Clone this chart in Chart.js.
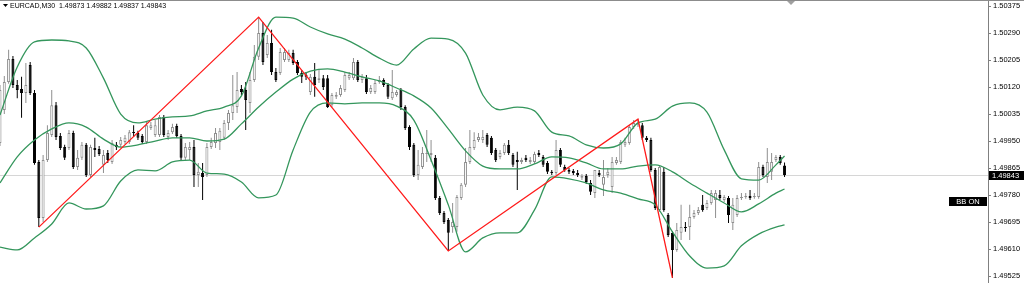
<!DOCTYPE html>
<html>
<head>
<meta charset="utf-8">
<script src="https://cdn.jsdelivr.net/npm/chart.js@4.4.1/dist/chart.umd.min.js"></script>
<style>
    html, body { margin: 0; padding: 0; background: #ffffff; }
    #wrap { position: relative; width: 1024px; height: 283px; }
</style>
</head>
<body>
<div id="wrap"><canvas id="eurcadChart"></canvas></div>
<script>
// EURCAD M30 candles
const symbolTitle = 'EURCAD,M30  1.49873 1.49882 1.49837 1.49843';
const opens = [
    1.49944, 1.50048, 1.50136, 1.50208, 1.50126, 1.50114, 1.50101, 1.50189, 1.50101, 1.49884,
    1.49708, 1.49890, 1.49969, 1.50063, 1.49966, 1.49931, 1.49928, 1.49975, 1.49868, 1.49897,
    1.49938, 1.49843, 1.49928, 1.49925, 1.49875, 1.49912, 1.49884, 1.49938, 1.49938, 1.49947,
    1.49947, 1.49978, 1.49975, 1.49966, 1.49947, 1.49991, 1.49969, 1.49969, 1.50026, 1.49963,
    1.49978, 1.49997, 1.49966, 1.49897, 1.49922, 1.49931, 1.49843, 1.49849, 1.49843, 1.49931,
    1.49944, 1.49947, 1.49960, 1.50007, 1.50038, 1.50057, 1.50114, 1.50111, 1.50070, 1.50142,
    1.50215, 1.50290, 1.50221, 1.50259, 1.50167, 1.50164, 1.50205, 1.50205, 1.50227, 1.50199,
    1.50164, 1.50158, 1.50104, 1.50152, 1.50142, 1.50148, 1.50148, 1.50063, 1.50089, 1.50095,
    1.50111, 1.50148, 1.50148, 1.50199, 1.50142, 1.50148, 1.50104, 1.50104, 1.50136, 1.50142,
    1.50126, 1.50085, 1.50095, 1.50111, 1.50057, 1.49994, 1.49938, 1.49843, 1.49868, 1.49909,
    1.49906, 1.49897, 1.49771, 1.49723, 1.49701, 1.49679, 1.49679, 1.49771, 1.49812, 1.49884,
    1.49928, 1.49953, 1.49953, 1.49969, 1.49960, 1.49922, 1.49900, 1.49912, 1.49938, 1.49906,
    1.49890, 1.49884, 1.49897, 1.49884, 1.49884, 1.49912, 1.49900, 1.49881, 1.49853, 1.49849,
    1.49922, 1.49868, 1.49859, 1.49856, 1.49849, 1.49834, 1.49840, 1.49818, 1.49786, 1.49849,
    1.49812, 1.49843, 1.49805, 1.49881, 1.49884, 1.49938, 1.49944, 1.49994, 1.50000, 1.50000,
    1.49960, 1.49953, 1.49859, 1.49733, 1.49853, 1.49717, 1.49661, 1.49607, 1.49661, 1.49679,
    1.49679, 1.49711, 1.49723, 1.49749, 1.49739, 1.49755, 1.49764, 1.49780, 1.49764, 1.49771,
    1.49692, 1.49717, 1.49771, 1.49774, 1.49777, 1.49774, 1.49774, 1.49868, 1.49837, 1.49853,
    1.49890, 1.49900, 1.49873
];
const highs = [
    1.50126, 1.50155, 1.50237, 1.50218, 1.50142, 1.50152, 1.50196, 1.50199, 1.50111, 1.49890,
    1.49906, 1.50000, 1.50111, 1.50073, 1.49975, 1.49938, 1.49985, 1.49982, 1.49922, 1.49947,
    1.49944, 1.49938, 1.49960, 1.49934, 1.49922, 1.49922, 1.49953, 1.49947, 1.49963, 1.49969,
    1.49985, 1.50000, 1.49982, 1.49972, 1.50010, 1.50010, 1.50016, 1.50032, 1.50032, 1.49985,
    1.50004, 1.50004, 1.49972, 1.49944, 1.49947, 1.49953, 1.49881, 1.49881, 1.49944, 1.49960,
    1.49991, 1.49991, 1.50016, 1.50048, 1.50158, 1.50167, 1.50126, 1.50136, 1.50167, 1.50252,
    1.50340, 1.50325, 1.50284, 1.50300, 1.50180, 1.50243, 1.50243, 1.50237, 1.50237, 1.50205,
    1.50174, 1.50167, 1.50161, 1.50196, 1.50174, 1.50158, 1.50158, 1.50101, 1.50104, 1.50126,
    1.50167, 1.50167, 1.50211, 1.50205, 1.50161, 1.50158, 1.50126, 1.50142, 1.50155, 1.50148,
    1.50133, 1.50174, 1.50111, 1.50117, 1.50063, 1.50000, 1.49944, 1.49922, 1.49931, 1.49985,
    1.49953, 1.49906, 1.49777, 1.49730, 1.49708, 1.49755, 1.49780, 1.49818, 1.49928, 1.49985,
    1.49978, 1.49975, 1.49985, 1.49975, 1.49966, 1.49928, 1.49922, 1.49944, 1.49953, 1.49912,
    1.49916, 1.49897, 1.49906, 1.49900, 1.49916, 1.49922, 1.49906, 1.49887, 1.49859, 1.49953,
    1.49928, 1.49875, 1.49865, 1.49862, 1.49859, 1.49846, 1.49846, 1.49827, 1.49859, 1.49859,
    1.49890, 1.49865, 1.49900, 1.49900, 1.49953, 1.49960, 1.50000, 1.50016, 1.50019, 1.50007,
    1.49966, 1.49960, 1.49865, 1.49871, 1.49868, 1.49723, 1.49667, 1.49692, 1.49749, 1.49695,
    1.49749, 1.49733, 1.49742, 1.49780, 1.49764, 1.49796, 1.49796, 1.49796, 1.49780, 1.49777,
    1.49771, 1.49780, 1.49786, 1.49786, 1.49796, 1.49786, 1.49884, 1.49875, 1.49928, 1.49912,
    1.49906, 1.49906, 1.49882
];
const lows = [
    1.49934, 1.50035, 1.50130, 1.50117, 1.50085, 1.50023, 1.50070, 1.50095, 1.49875, 1.49679,
    1.49695, 1.49884, 1.49963, 1.49953, 1.49922, 1.49890, 1.49922, 1.49862, 1.49859, 1.49890,
    1.49837, 1.49837, 1.49900, 1.49903, 1.49849, 1.49881, 1.49878, 1.49922, 1.49931, 1.49941,
    1.49941, 1.49963, 1.49953, 1.49941, 1.49941, 1.49985, 1.49963, 1.49963, 1.49963, 1.49953,
    1.49972, 1.49960, 1.49890, 1.49890, 1.49890, 1.49805, 1.49805, 1.49764, 1.49837, 1.49925,
    1.49928, 1.49922, 1.49953, 1.49985, 1.50016, 1.50038, 1.50095, 1.49985, 1.50038, 1.50136,
    1.50205, 1.50189, 1.50211, 1.50158, 1.50136, 1.50158, 1.50199, 1.50199, 1.50189, 1.50158,
    1.50133, 1.50142, 1.50095, 1.50089, 1.50133, 1.50111, 1.50054, 1.50057, 1.50082, 1.50089,
    1.50104, 1.50142, 1.50142, 1.50136, 1.50133, 1.50098, 1.50098, 1.50098, 1.50130, 1.50120,
    1.50082, 1.50079, 1.50089, 1.50048, 1.49985, 1.49922, 1.49837, 1.49827, 1.49862, 1.49884,
    1.49884, 1.49764, 1.49717, 1.49689, 1.49604, 1.49661, 1.49664, 1.49764, 1.49805, 1.49878,
    1.49922, 1.49947, 1.49944, 1.49931, 1.49906, 1.49884, 1.49893, 1.49906, 1.49906, 1.49868,
    1.49796, 1.49878, 1.49884, 1.49878, 1.49878, 1.49900, 1.49868, 1.49846, 1.49843, 1.49843,
    1.49868, 1.49853, 1.49846, 1.49843, 1.49837, 1.49827, 1.49815, 1.49780, 1.49771, 1.49837,
    1.49777, 1.49834, 1.49786, 1.49875, 1.49878, 1.49931, 1.49938, 1.49988, 1.49994, 1.49953,
    1.49947, 1.49853, 1.49733, 1.49727, 1.49727, 1.49648, 1.49519, 1.49601, 1.49638, 1.49664,
    1.49638, 1.49705, 1.49717, 1.49727, 1.49733, 1.49749, 1.49708, 1.49764, 1.49758, 1.49692,
    1.49670, 1.49711, 1.49764, 1.49768, 1.49764, 1.49768, 1.49768, 1.49837, 1.49818, 1.49827,
    1.49884, 1.49875, 1.49837
];
const closes = [
    1.50111, 1.50136, 1.50208, 1.50126, 1.50111, 1.50101, 1.50126, 1.50101, 1.49881, 1.49708,
    1.49890, 1.49975, 1.50063, 1.49963, 1.49928, 1.49897, 1.49975, 1.49868, 1.49897, 1.49938,
    1.49843, 1.49931, 1.49922, 1.49909, 1.49906, 1.49890, 1.49944, 1.49931, 1.49953, 1.49960,
    1.49978, 1.49975, 1.49960, 1.49947, 1.50000, 1.50000, 1.50000, 1.50026, 1.49969, 1.49975,
    1.49994, 1.49966, 1.49897, 1.49931, 1.49931, 1.49843, 1.49853, 1.49837, 1.49931, 1.49947,
    1.49975, 1.49982, 1.50007, 1.50038, 1.50063, 1.50111, 1.50104, 1.50079, 1.50142, 1.50215,
    1.50290, 1.50199, 1.50259, 1.50167, 1.50142, 1.50230, 1.50230, 1.50227, 1.50196, 1.50164,
    1.50152, 1.50152, 1.50152, 1.50126, 1.50148, 1.50120, 1.50057, 1.50095, 1.50095, 1.50117,
    1.50158, 1.50158, 1.50199, 1.50142, 1.50152, 1.50104, 1.50117, 1.50133, 1.50142, 1.50126,
    1.50089, 1.50104, 1.50104, 1.50057, 1.49991, 1.49931, 1.49843, 1.49875, 1.49912, 1.49912,
    1.49912, 1.49771, 1.49723, 1.49695, 1.49661, 1.49695, 1.49774, 1.49812, 1.49884, 1.49931,
    1.49953, 1.49963, 1.49963, 1.49938, 1.49912, 1.49890, 1.49912, 1.49938, 1.49912, 1.49875,
    1.49884, 1.49890, 1.49890, 1.49890, 1.49909, 1.49906, 1.49875, 1.49853, 1.49849, 1.49922,
    1.49875, 1.49859, 1.49853, 1.49849, 1.49843, 1.49840, 1.49821, 1.49790, 1.49859, 1.49843,
    1.49837, 1.49853, 1.49884, 1.49890, 1.49947, 1.49947, 1.49994, 1.50007, 1.50007, 1.49960,
    1.49953, 1.49859, 1.49739, 1.49868, 1.49733, 1.49654, 1.49607, 1.49670, 1.49679, 1.49676,
    1.49711, 1.49723, 1.49733, 1.49733, 1.49755, 1.49786, 1.49786, 1.49771, 1.49774, 1.49717,
    1.49749, 1.49771, 1.49774, 1.49777, 1.49771, 1.49777, 1.49868, 1.49843, 1.49884, 1.49884,
    1.49900, 1.49881, 1.49843
];

// Bollinger bands, read at every 4th bar
const bbIndex = [0, 4, 8, 12, 16, 20, 24, 28, 32, 36, 40, 44, 48, 52, 56, 60, 64, 68, 72, 76, 80, 84, 88, 92,
    96, 100, 104, 108, 112, 116, 120, 124, 128, 132, 136, 140, 144, 148, 152, 156, 160, 164, 168, 172, 176, 180, 182];
const bbUpper = [
    1.50032, 1.50183, 1.50262, 1.50268, 1.50265, 1.50243, 1.50148, 1.50035, 1.50007, 1.50019,
    1.50026, 1.50029, 1.50045, 1.50057, 1.50092, 1.50243, 1.50340, 1.50337, 1.50309, 1.50287,
    1.50271, 1.50243, 1.50211, 1.50189, 1.50240, 1.50274, 1.50271, 1.50227, 1.50095, 1.50048,
    1.50057, 1.50045, 1.49978, 1.49966, 1.49938, 1.49928, 1.49941, 1.50007, 1.50019, 1.50060,
    1.50070, 1.50041, 1.49922, 1.49831, 1.49827, 1.49875, 1.49903
];
const bbMiddle = [
    1.49818, 1.49900, 1.49953, 1.49988, 1.50007, 1.49994, 1.49956, 1.49931, 1.49938, 1.49950,
    1.49960, 1.49960, 1.49950, 1.49956, 1.50004, 1.50057, 1.50104, 1.50145, 1.50170, 1.50177,
    1.50167, 1.50152, 1.50139, 1.50117, 1.50092, 1.50054, 1.49988, 1.49919, 1.49871, 1.49862,
    1.49862, 1.49878, 1.49900, 1.49897, 1.49881, 1.49862, 1.49862, 1.49871, 1.49875, 1.49853,
    1.49818, 1.49786, 1.49755, 1.49727, 1.49752, 1.49786, 1.49799
];
const bbLower = [
    1.49616, 1.49607, 1.49645, 1.49689, 1.49755, 1.49736, 1.49746, 1.49824, 1.49859, 1.49856,
    1.49884, 1.49890, 1.49849, 1.49846, 1.49821, 1.49771, 1.49780, 1.49922, 1.50041, 1.50070,
    1.50067, 1.50070, 1.50070, 1.50060, 1.50016, 1.49890, 1.49749, 1.49601, 1.49645, 1.49661,
    1.49661, 1.49733, 1.49837, 1.49831, 1.49818, 1.49796, 1.49786, 1.49768, 1.49749, 1.49664,
    1.49588, 1.49550, 1.49557, 1.49620, 1.49657, 1.49679, 1.49686
];

// ZigZag pivots
const zzIndex = [9, 60, 104, 148, 156];
const zzPrice = [1.49679, 1.50340, 1.49604, 1.50019, 1.49519];

// price scale labels
const priceTicks = [1.50375, 1.50290, 1.50205, 1.50120, 1.50035, 1.49950, 1.49865, 1.49780, 1.49695, 1.49610, 1.49525];

const lastPrice = closes[closes.length - 1];
const isBull = opens.map((o, i) => closes[i] >= o);

const FONT = 'Liberation Sans';

const mtOverlay = {
    id: 'mtOverlay',
    beforeDatasetsDraw(chart) {
        const { ctx, chartArea, scales } = chart;
        const y = Math.round(scales.y.getPixelForValue(lastPrice)) + 0.5;
        ctx.save();
        ctx.strokeStyle = '#d6d6d6';
        ctx.lineWidth = 1;
        ctx.beginPath();
        ctx.moveTo(chartArea.left, y);
        ctx.lineTo(chartArea.right, y);
        ctx.stroke();
        ctx.restore();
    },
    afterDraw(chart) {
        const { ctx, chartArea, scales } = chart;
        ctx.save();
        // frame top
        ctx.strokeStyle = '#8c8c8c';
        ctx.lineWidth = 1;
        ctx.beginPath();
        ctx.moveTo(0, 0.5);
        ctx.lineTo(chart.width, 0.5);
        ctx.stroke();

        // chart shift marker
        ctx.fillStyle = '#a0a0a0';
        ctx.beginPath();
        ctx.moveTo(chartArea.left + 787, 1);
        ctx.lineTo(chartArea.left + 795, 1);
        ctx.lineTo(chartArea.left + 791, 5);
        ctx.closePath();
        ctx.fill();

        // symbol title
        ctx.fillStyle = '#000000';
        ctx.beginPath();
        ctx.moveTo(3, 4);
        ctx.lineTo(8, 4);
        ctx.lineTo(5.5, 7);
        ctx.closePath();
        ctx.fill();
        ctx.font = '7px "' + FONT + '"';
        ctx.textBaseline = 'middle';
        ctx.textAlign = 'left';
        ctx.fillText(symbolTitle, 10, 6);

        // current price tag
        const y = Math.round(scales.y.getPixelForValue(lastPrice));
        ctx.fillStyle = '#000000';
        ctx.fillRect(chartArea.right + 1, y - 4, 36, 9);
        ctx.fillStyle = '#ffffff';
        ctx.font = '7.5px "' + FONT + '"';
        ctx.fillText(lastPrice.toFixed(5), chartArea.right + 4, y + 0.5);

        // BB ON button
        ctx.fillStyle = '#000000';
        ctx.fillRect(chartArea.right - 39, 197, 38, 9);
        ctx.fillStyle = '#ffffff';
        ctx.textAlign = 'center';
        ctx.fillText('BB ON', chartArea.right - 20, 201.5);
        ctx.restore();
    }
};

const ctx = document.getElementById('eurcadChart').getContext('2d');
const eurcadChart = new Chart(ctx, {
    type: 'bar',
    data: {
        datasets: [
            {
                type: 'line',
                label: 'ZigZag',
                data: zzIndex.map((x, k) => ({ x: x, y: zzPrice[k] })),
                borderColor: '#ff1a1a',
                borderWidth: 1.3,
                pointRadius: 0,
                tension: 0,
                order: 0
            },
            {
                type: 'line',
                label: 'BB upper',
                data: bbIndex.map((x, k) => ({ x: x, y: bbUpper[k] })),
                borderColor: 'rgb(52, 150, 92)',
                borderWidth: 1.3,
                pointRadius: 0,
                cubicInterpolationMode: 'monotone',
                order: 1
            },
            {
                type: 'line',
                label: 'BB middle',
                data: bbIndex.map((x, k) => ({ x: x, y: bbMiddle[k] })),
                borderColor: 'rgb(52, 150, 92)',
                borderWidth: 1.3,
                pointRadius: 0,
                cubicInterpolationMode: 'monotone',
                order: 1
            },
            {
                type: 'line',
                label: 'BB lower',
                data: bbIndex.map((x, k) => ({ x: x, y: bbLower[k] })),
                borderColor: 'rgb(52, 150, 92)',
                borderWidth: 1.3,
                pointRadius: 0,
                cubicInterpolationMode: 'monotone',
                order: 1
            },
            {
                label: 'Body',
                data: opens.map((o, i) => ({ x: i, y: [o, closes[i]] })),
                backgroundColor: isBull.map(b => b ? '#ffffff' : '#000000'),
                borderColor: isBull.map(b => b ? '#8f8f8f' : '#000000'),
                borderWidth: 1,
                borderSkipped: false,
                inflateAmount: 0,
                grouped: false,
                maxBarThickness: 3,
                minBarLength: 1,
                order: 2
            },
            {
                label: 'Wick',
                data: highs.map((h, i) => ({ x: i, y: [lows[i], h] })),
                backgroundColor: isBull.map(b => b ? '#8f8f8f' : '#000000'),
                borderWidth: 0,
                inflateAmount: 0,
                grouped: false,
                maxBarThickness: 1,
                order: 3
            }
        ]
    },
    options: {
        responsive: true,
        maintainAspectRatio: false,
        animation: false,
        devicePixelRatio: 1,
        layout: { padding: 0 },
        plugins: {
            legend: { display: false },
            tooltip: { enabled: false }
        },
        scales: {
            x: {
                type: 'linear',
                min: 0,
                max: 229.2,
                offset: false,
                display: false
            },
            y: {
                position: 'right',
                min: 1.49503,
                max: 1.50394,
                afterBuildTicks: (scale) => {
                    scale.ticks = priceTicks.map(v => ({ value: v }));
                },
                afterFit: (scale) => {
                    scale.width = 36;
                    scale.paddingTop = 0;
                    scale.paddingBottom = 0;
                },
                grid: {
                    drawOnChartArea: false,
                    tickLength: 3,
                    color: '#808080'
                },
                border: {
                    display: true,
                    color: '#808080',
                    width: 1
                },
                ticks: {
                    color: '#000000',
                    padding: 2,
                    font: { family: FONT, size: 7.5 },
                    callback: (v) => Number(v).toFixed(5)
                }
            }
        }
    },
    plugins: [mtOverlay]
});
</script>
</body>
</html>
